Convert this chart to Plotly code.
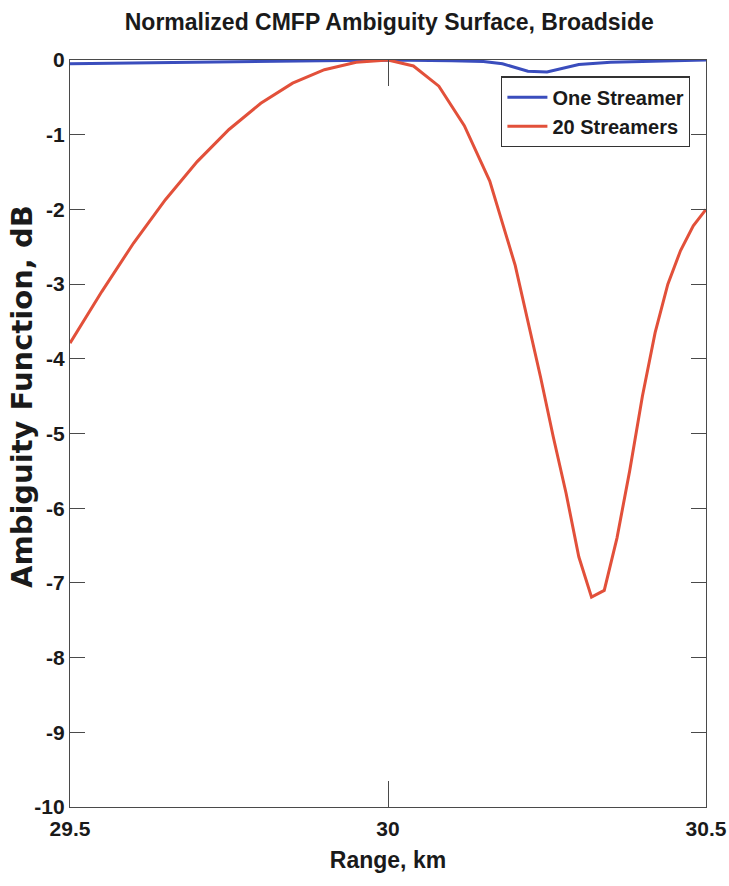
import plotly.graph_objects as go

# Data
range_red = [29.50, 29.55, 29.60, 29.65, 29.70, 29.75, 29.80, 29.85, 29.90, 29.95,
             30.00, 30.04, 30.08, 30.12, 30.16, 30.20, 30.24, 30.26, 30.28, 30.30,
             30.32, 30.34, 30.36, 30.38, 30.40, 30.42, 30.44, 30.46, 30.48, 30.50]
amb_20 = [-3.79, -3.10, -2.45, -1.87, -1.36, -0.93, -0.58, -0.31, -0.13, -0.03,
          0.0, -0.08, -0.35, -0.88, -1.62, -2.75, -4.25, -5.05, -5.80, -6.65,
          -7.19, -7.10, -6.40, -5.50, -4.50, -3.65, -3.00, -2.55, -2.22, -2.00]

range_blue = [29.50, 29.60, 29.70, 29.80, 29.90, 30.00, 30.10, 30.15, 30.18, 30.20,
              30.22, 30.25, 30.27, 30.30, 30.35, 30.40, 30.50]
amb_1 = [-0.05, -0.04, -0.03, -0.02, -0.01, 0.0, -0.01, -0.02, -0.05, -0.10,
         -0.15, -0.16, -0.12, -0.06, -0.03, -0.02, 0.0]

x_ticks = [29.5, 30, 30.5]
x_labels = ["29.5", "30", "30.5"]
y_ticks = [0, -1, -2, -3, -4, -5, -6, -7, -8, -9, -10]
y_labels = ["0", "-1", "-2", "-3", "-4", "-5", "-6", "-7", "-8", "-9", "-10"]

SANS = "Liberation Sans, Arial, sans-serif"
TXT = "#1a1a1a"
AX = "#4a4a4a"

fig = go.Figure()
fig.add_trace(go.Scatter(x=range_blue, y=amb_1, mode="lines", name="<b>One Streamer</b>",
                         line=dict(color="#3a4dbd", width=3)))
fig.add_trace(go.Scatter(x=range_red, y=amb_20, mode="lines", name="<b>20 Streamers</b>",
                         line=dict(color="#e2503a", width=3)))

common = dict(showline=True, linecolor=AX, linewidth=1.2, mirror="ticks",
              ticks="inside", tickcolor=AX, tickwidth=1.2,
              showgrid=False, zeroline=False, automargin=False)

fig.update_layout(
    width=729, height=886,
    margin=dict(l=70, r=23, t=60, b=79),
    paper_bgcolor="white", plot_bgcolor="white",
    title=dict(text="<b>Normalized CMFP Ambiguity Surface, Broadside</b>",
               x=0.534, xanchor="center", y=0.975, yanchor="middle",
               font=dict(family=SANS, size=23, color=TXT)),
    xaxis=dict(range=[29.5, 30.5], tickvals=x_ticks,
               ticktext=[f"<b>{t}</b>" for t in x_labels],
               tickfont=dict(family=SANS, size=21, color=TXT), ticklen=26,
               ticklabelstandoff=3,
               title=dict(text="<b>Range, km</b>", standoff=12,
                          font=dict(family=SANS, size=23, color=TXT)),
               **common),
    yaxis=dict(range=[-10, 0], tickvals=y_ticks,
               ticktext=[f"<b>{t}</b>" for t in y_labels],
               tickfont=dict(family=SANS, size=21, color=TXT), ticklen=15,
               **common),
    legend=dict(x=0.678, y=0.978, xanchor="left", yanchor="top",
                bgcolor="white", bordercolor="#333333", borderwidth=1.2,
                font=dict(family=SANS, size=20, color=TXT),
                itemwidth=40, tracegroupgap=0),
    showlegend=True,
    annotations=[dict(text="<b>Ambiguity Function, dB</b>", textangle=-90,
                      xref="paper", yref="paper",
                      x=-(70 - 22) / 636, y=1 - (397 - 60) / 747,
                      xanchor="center", yanchor="middle", showarrow=False,
                      font=dict(family="DejaVu Sans, sans-serif", size=29, color=TXT))],
)

fig.write_html("out.html", config={"displayModeBar": False},
               post_script="document.body.style.margin='0';document.body.style.overflow='hidden';")
